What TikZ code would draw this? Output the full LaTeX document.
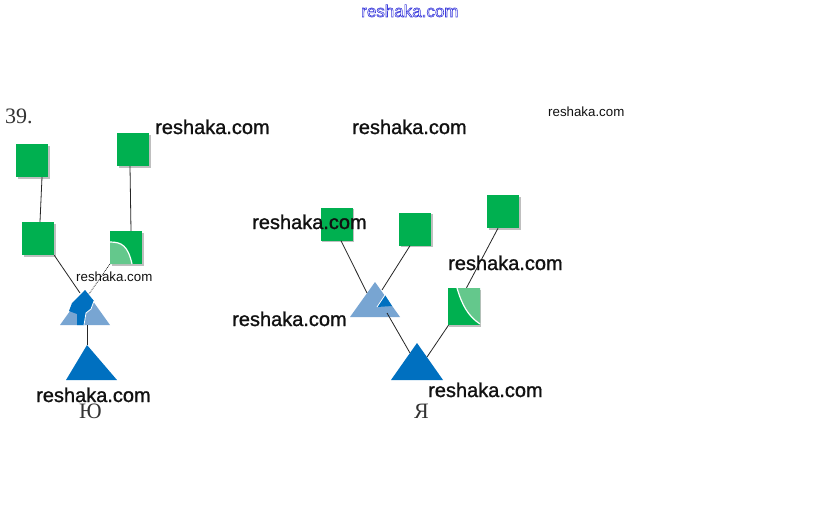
\documentclass[tikz,border=0pt]{standalone}
\usepackage{fontspec}
\usetikzlibrary{shadows}
\newfontfamily\wmfont[FakeBold=1.2]{Liberation Sans}
\newfontfamily\wmthin{Liberation Sans}
\newfontfamily\cyrserif{Liberation Serif}
\definecolor{sqgreen}{RGB}{0,176,80}
\definecolor{ltgreen}{RGB}{100,200,140}
\definecolor{trblue}{RGB}{0,112,192}
\definecolor{ltblue}{RGB}{120,165,210}
\definecolor{wmblue}{RGB}{60,60,220}
\definecolor{wmtext}{RGB}{17,17,17}
\tikzset{
  sq/.style={rectangle, fill=sqgreen, minimum width=32pt, minimum height=33pt, inner sep=0pt,
    drop shadow={shadow xshift=1.5pt, shadow yshift=-1.5pt, fill=black!25, opacity=1}},
  link/.style={draw=black!85, line width=0.8pt},
  wmbig/.style={font=\wmfont\fontsize{20}{24}\selectfont, text=wmtext, inner sep=0pt, anchor=base west},
  wmsmall/.style={font=\wmthin\fontsize{13.3}{16}\selectfont, text=wmtext, inner sep=0pt, anchor=base west},
  wmtop/.style={font=\wmthin\fontsize{17}{20}\selectfont, text=wmblue, inner sep=0pt, anchor=base west},
  lbl/.style={font=\cyrserif\fontsize{22}{26}\selectfont, text=black!80, inner sep=0pt, anchor=base west},
  cut/.style={draw=white, line width=1.2pt}
}
\begin{document}
\begin{tikzpicture}[x=1pt,y=-1pt]
\useasboundingbox[fill=white] (0,0) rectangle (818,522);

% ---------- left pedigree (Ю) ----------
\node[sq] (A) at (32,160.5) {};
\node[sq] (B) at (133,149.5) {};
\node[sq] (C) at (38,238.5) {};
\node[sq] (D) at (126,247.5) {};
% faded lower-left of D
\fill[ltgreen] (110,242) .. controls (122,242) and (128,246) .. (132,264) -- (110,264) -- cycle;
\draw[cut] (110,242) .. controls (122,242) and (128,246) .. (132,264);

\coordinate (E) at (85,290);
\coordinate (Ebase) at (87,325);
\fill[ltblue] (E) -- (110,325) -- (60,325) -- cycle;
\fill[trblue] (85,290) -- (94,301) -- (91,309) -- (86,313) -- (84,325) -- (77,325) -- (77,314) -- (69,311) -- (72,303) -- cycle;
\draw[white, line width=0.8pt] (94,301) -- (91,309) -- (86,313) -- (84,325);

\coordinate (F) at (87,345);
\fill[trblue] (F) -- (117,380) -- (66,380) -- cycle;

\draw[link] ([xshift=10pt]A.south) -- ([xshift=2pt]C.north);
\draw[link] ([xshift=-3pt]B.south) -- ([xshift=5pt]D.north);
\draw[link] (C.south east) -- ([xshift=-5pt,yshift=-3pt]E);
\draw[link, densely dotted] (D.south west) -- ([xshift=4pt,yshift=-4pt]E);
\draw[link] (Ebase) -- (F);

% ---------- right pedigree (Я) ----------
\node[sq] (G) at (336.5,224) {};
\node[sq] (H) at (415,229) {};
\node[sq] (I) at (503,211.5) {};
\node[sq, minimum height=37pt] (K) at (463.5,306.5) {};
\fill[ltgreen] (457,288) .. controls (462,305) and (468,316) .. (480,324) -- (480,288) -- cycle;
\draw[cut] (457,288) .. controls (462,305) and (468,316) .. (480,324);

\coordinate (J) at (375,282);
\fill[ltblue] (J) -- (400,317) -- (350,317) -- cycle;
\fill[trblue] (385,295) -- (392,306) -- (377,307) -- cycle;
\draw[white, line width=0.8pt] (385,295) -- (377,307);

\coordinate (L) at (417,343);
\fill[trblue] (L) -- (443,380) -- (391,380) -- cycle;

\draw[link] ([xshift=4.5pt]G.south) -- ([xshift=-8pt,yshift=-11pt]J);
\draw[link] ([xshift=-5pt]H.south) -- ([xshift=7pt,yshift=-8pt]J);
\draw[link] ([xshift=-5pt]I.south) -- ([xshift=3pt]K.north);
\draw[link] ([xshift=12pt,yshift=-31pt]J) -- ([xshift=-7pt,yshift=-10pt]L);
\draw[link] ([xshift=-15pt]K.south) -- ([xshift=10pt,yshift=-14pt]L);

% ---------- labels ----------
\node[lbl] (n39) at (5,123) {39.};
\node[lbl] (yu) at (79,418) {Ю};
\node[lbl] (ya) at (414,418) {Я};

% ---------- watermarks ----------
\node[wmtop] (w0) at (361,17) {\special{pdf:code 1 Tr 0.6 w}reshaka.com\special{pdf:code 0 Tr}};
\node[wmbig] (w1) at (155,134) {reshaka.com};
\node[wmbig] (w2) at (352,134) {reshaka.com};
\node[wmsmall] (w3) at (548,116) {reshaka.com};
\node[wmbig] (w4) at (252,229) {reshaka.com};
\node[wmbig] (w5) at (448,270) {reshaka.com};
\node[wmsmall] (w6) at (76,281) {reshaka.com};
\node[wmbig] (w7) at (232,326) {reshaka.com};
\node[wmbig] (w8) at (428,397) {reshaka.com};
\node[wmbig] (w9) at (36,402) {reshaka.com};
\end{tikzpicture}
\end{document}
